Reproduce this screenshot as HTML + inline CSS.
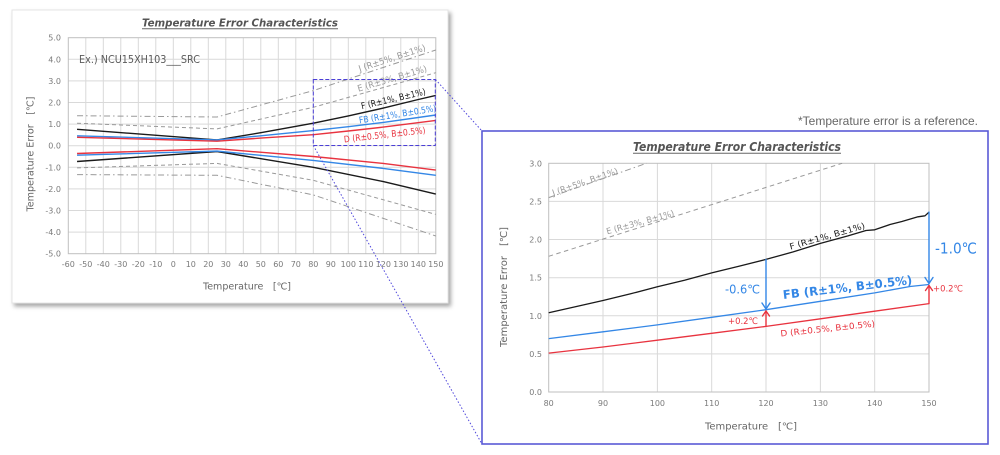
<!DOCTYPE html>
<html>
<head>
<meta charset="utf-8">
<style>
html,body{margin:0;padding:0;background:#fff;}
body{width:1000px;height:455px;overflow:hidden;}
svg{display:block;}
text{font-family:"DejaVu Sans","Noto Sans CJK JP",sans-serif;}
.tk{font-size:8px;fill:#7a7a7a;}
</style>
</head>
<body>
<svg width="1000" height="455" viewBox="0 0 1000 455" xmlns="http://www.w3.org/2000/svg">
<defs>
<filter id="sh" x="-5%" y="-5%" width="115%" height="115%">
<feDropShadow dx="2.5" dy="3" stdDeviation="2" flood-color="#000" flood-opacity="0.35"/>
</filter>
</defs>

<!-- left card -->
<rect x="12" y="10" width="436" height="293" fill="#fff" stroke="#e4e4e4" stroke-width="1" filter="url(#sh)"/>

<!-- left title -->
<text x="142" y="26.5" font-size="11" font-weight="bold" font-style="italic" fill="#555" textLength="196" lengthAdjust="spacingAndGlyphs">Temperature Error Characteristics</text>
<line x1="142" y1="28.8" x2="338" y2="28.8" stroke="#666" stroke-width="1"/>

<!-- left grid -->
<g stroke="#d9d9d9" stroke-width="1">
<line x1="85.8" y1="37.7" x2="85.8" y2="253.7"/><line x1="103.3" y1="37.7" x2="103.3" y2="253.7"/><line x1="120.8" y1="37.7" x2="120.8" y2="253.7"/><line x1="138.3" y1="37.7" x2="138.3" y2="253.7"/><line x1="155.8" y1="37.7" x2="155.8" y2="253.7"/><line x1="173.3" y1="37.7" x2="173.3" y2="253.7"/><line x1="190.8" y1="37.7" x2="190.8" y2="253.7"/><line x1="208.3" y1="37.7" x2="208.3" y2="253.7"/><line x1="225.8" y1="37.7" x2="225.8" y2="253.7"/><line x1="243.3" y1="37.7" x2="243.3" y2="253.7"/><line x1="260.8" y1="37.7" x2="260.8" y2="253.7"/><line x1="278.3" y1="37.7" x2="278.3" y2="253.7"/><line x1="295.8" y1="37.7" x2="295.8" y2="253.7"/><line x1="313.3" y1="37.7" x2="313.3" y2="253.7"/><line x1="330.8" y1="37.7" x2="330.8" y2="253.7"/><line x1="348.3" y1="37.7" x2="348.3" y2="253.7"/><line x1="365.8" y1="37.7" x2="365.8" y2="253.7"/><line x1="383.3" y1="37.7" x2="383.3" y2="253.7"/><line x1="400.8" y1="37.7" x2="400.8" y2="253.7"/><line x1="418.3" y1="37.7" x2="418.3" y2="253.7"/>
<line x1="68.3" y1="59.3" x2="435.8" y2="59.3"/><line x1="68.3" y1="80.9" x2="435.8" y2="80.9"/><line x1="68.3" y1="102.5" x2="435.8" y2="102.5"/><line x1="68.3" y1="124.1" x2="435.8" y2="124.1"/><line x1="68.3" y1="145.7" x2="435.8" y2="145.7"/><line x1="68.3" y1="167.3" x2="435.8" y2="167.3"/><line x1="68.3" y1="188.9" x2="435.8" y2="188.9"/><line x1="68.3" y1="210.5" x2="435.8" y2="210.5"/><line x1="68.3" y1="232.1" x2="435.8" y2="232.1"/>
</g>
<rect x="68.3" y="37.7" width="367.5" height="216" fill="none" stroke="#bfbfbf" stroke-width="1"/>

<!-- left y ticks -->
<g class="tk" text-anchor="end">
<text x="61" y="40.7">5.0</text><text x="61" y="62.3">4.0</text><text x="61" y="83.9">3.0</text><text x="61" y="105.5">2.0</text><text x="61" y="127.1">1.0</text><text x="61" y="148.7">0.0</text><text x="61" y="170.3">-1.0</text><text x="61" y="191.9">-2.0</text><text x="61" y="213.5">-3.0</text><text x="61" y="235.1">-4.0</text><text x="61" y="256.7">-5.0</text>
</g>
<!-- left x ticks -->
<g class="tk" text-anchor="middle">
<text x="68.3" y="267">-60</text><text x="85.8" y="267">-50</text><text x="103.3" y="267">-40</text><text x="120.8" y="267">-30</text><text x="138.3" y="267">-20</text><text x="155.8" y="267">-10</text><text x="173.3" y="267">0</text><text x="190.8" y="267">10</text><text x="208.3" y="267">20</text><text x="225.8" y="267">30</text><text x="243.3" y="267">40</text><text x="260.8" y="267">50</text><text x="278.3" y="267">60</text><text x="295.8" y="267">70</text><text x="313.3" y="267">80</text><text x="330.8" y="267">90</text><text x="348.3" y="267">100</text><text x="365.8" y="267">110</text><text x="383.3" y="267">120</text><text x="400.8" y="267">130</text><text x="418.3" y="267">140</text><text x="435.8" y="267">150</text>
</g>

<!-- left axis titles -->
<text x="203" y="289.5" font-size="9.5" fill="#666" textLength="88" lengthAdjust="spacingAndGlyphs">Temperature　[℃]</text>
<text transform="translate(33.5,154) rotate(-90)" x="0" y="0" text-anchor="middle" font-size="9.5" fill="#666" textLength="115" lengthAdjust="spacingAndGlyphs">Temperature Error　[℃]</text>

<text x="79" y="63" font-size="10.5" fill="#5a5a5a" textLength="121" lengthAdjust="spacingAndGlyphs">Ex.) NCU15XH103___SRC</text>

<!-- left series -->
<g fill="none" stroke-linejoin="round">
<path d="M77.05,115.7 L217.05,117.0 L313.3,90.6 L435.8,50.0" stroke="#999" stroke-width="1" stroke-dasharray="6,3,1.5,3"/>
<path d="M77.05,174.6 L217.05,175.3 L313.3,194.9 L435.8,236.0" stroke="#999" stroke-width="1" stroke-dasharray="6,3,1.5,3"/>
<path d="M77.05,123.2 L217.05,128.9 L313.3,107.3 L435.8,72.7" stroke="#999" stroke-width="1" stroke-dasharray="4,3"/>
<path d="M77.05,167.9 L217.05,163.4 L313.3,180.3 L435.8,214.4" stroke="#999" stroke-width="1" stroke-dasharray="4,3"/>
<path d="M77.05,129.3 L217.05,139.9 L260.8,132.7 L313.3,123.2 L348.3,115.9 L383.3,108.1 L418.3,99.5 L435.8,95.4" stroke="#1a1a1a" stroke-width="1.4"/>
<path d="M77.05,161.5 L217.05,151.5 L313.3,167.3 L383.3,181.6 L435.8,194.1" stroke="#1a1a1a" stroke-width="1.4"/>
<path d="M77.05,135.8 L217.05,139.9 L260.8,135.8 L313.3,130.6 L348.3,126.7 L383.3,122.4 L435.8,115.0" stroke="#3487e6" stroke-width="1.4"/>
<path d="M77.05,155.2 L217.05,151.1 L313.3,160.4 L383.3,168.4 L435.8,175.3" stroke="#3487e6" stroke-width="1.4"/>
<path d="M77.05,137.3 L217.05,141.2 L260.8,138.1 L313.3,134.7 L348.3,131.0 L383.3,127.1 L435.8,120.4" stroke="#e8333f" stroke-width="1.4"/>
<path d="M77.05,153.5 L217.05,148.7 L313.3,156.5 L383.3,163.4 L435.8,170.1" stroke="#e8333f" stroke-width="1.4"/>
</g>

<!-- left labels -->
<text transform="translate(393,61) rotate(-18)" text-anchor="middle" font-size="9" fill="#999" textLength="70" lengthAdjust="spacingAndGlyphs">J (R±5%, B±1%)</text>
<text transform="translate(393,81.5) rotate(-16.5)" text-anchor="middle" font-size="9" fill="#999" textLength="72" lengthAdjust="spacingAndGlyphs">E (R±3%, B±1%)</text>
<text transform="translate(394,101.8) rotate(-13)" text-anchor="middle" font-size="9" fill="#1a1a1a" textLength="66" lengthAdjust="spacingAndGlyphs">F (R±1%, B±1%)</text>
<text transform="translate(398,117.3) rotate(-9)" text-anchor="middle" font-size="9" fill="#3487e6" textLength="78" lengthAdjust="spacingAndGlyphs">FB (R±1%, B±0.5%)</text>
<text transform="translate(385,137.8) rotate(-6.5)" text-anchor="middle" font-size="9" fill="#e8333f" textLength="82" lengthAdjust="spacingAndGlyphs">D (R±0.5%, B±0.5%)</text>

<!-- zoom rect -->
<rect x="313.3" y="79.5" width="122" height="66" fill="none" stroke="#4b3fd6" stroke-width="1" stroke-dasharray="4,2"/>

<!-- connecting lines -->
<line x1="435.5" y1="79.5" x2="482" y2="131" stroke="#5048dc" stroke-width="1" stroke-dasharray="1.5,2"/>
<line x1="313.3" y1="145.5" x2="482" y2="444" stroke="#5048dc" stroke-width="1" stroke-dasharray="1.5,2"/>

<!-- note -->
<text x="798" y="125" style="font-family:'Liberation Sans',sans-serif" font-size="12" fill="#666" textLength="180" lengthAdjust="spacingAndGlyphs">*Temperature error is a reference.</text>

<!-- right box -->
<rect x="482" y="131" width="506" height="313" fill="#fff" stroke="#5a5ad6" stroke-width="1.6"/>

<!-- right title -->
<text x="633" y="151" font-size="12" font-weight="bold" font-style="italic" fill="#555" textLength="208" lengthAdjust="spacingAndGlyphs">Temperature Error Characteristics</text>
<line x1="633" y1="153.2" x2="841" y2="153.2" stroke="#666" stroke-width="1"/>

<!-- right grid -->
<g stroke="#d9d9d9" stroke-width="1">
<line x1="603.0" y1="163.3" x2="603.0" y2="392"/><line x1="657.4" y1="163.3" x2="657.4" y2="392"/><line x1="711.7" y1="163.3" x2="711.7" y2="392"/><line x1="766.0" y1="163.3" x2="766.0" y2="392"/><line x1="820.4" y1="163.3" x2="820.4" y2="392"/><line x1="874.7" y1="163.3" x2="874.7" y2="392"/>
<line x1="548.7" y1="201.4" x2="929" y2="201.4"/><line x1="548.7" y1="239.5" x2="929" y2="239.5"/><line x1="548.7" y1="277.7" x2="929" y2="277.7"/><line x1="548.7" y1="315.8" x2="929" y2="315.8"/><line x1="548.7" y1="353.9" x2="929" y2="353.9"/>
</g>
<rect x="548.7" y="163.3" width="380.3" height="228.7" fill="none" stroke="#bfbfbf" stroke-width="1"/>

<g class="tk" text-anchor="end">
<text x="542" y="166.3">3.0</text><text x="542" y="204.4">2.5</text><text x="542" y="242.5">2.0</text><text x="542" y="280.7">1.5</text><text x="542" y="318.8">1.0</text><text x="542" y="356.9">0.5</text><text x="542" y="395">0.0</text>
</g>
<g class="tk" text-anchor="middle">
<text x="548.7" y="406">80</text><text x="603.0" y="406">90</text><text x="657.4" y="406">100</text><text x="711.7" y="406">110</text><text x="766.0" y="406">120</text><text x="820.4" y="406">130</text><text x="874.7" y="406">140</text><text x="929" y="406">150</text>
</g>

<text x="705" y="429.5" font-size="9.5" fill="#666" textLength="92" lengthAdjust="spacingAndGlyphs">Temperature　[℃]</text>
<text transform="translate(507,287) rotate(-90)" x="0" y="0" text-anchor="middle" font-size="9.5" fill="#666" textLength="120" lengthAdjust="spacingAndGlyphs">Temperature Error　[℃]</text>

<!-- right series -->
<g fill="none" stroke-linejoin="round">
<path d="M548.7,197.6 L646.5,163.3" stroke="#999" stroke-width="1" stroke-dasharray="6,3,1.5,3"/>
<path d="M548.7,256.3 L842.1,163.3" stroke="#999" stroke-width="1" stroke-dasharray="4.5,3.5"/>
<path d="M548.7,312.7 L575.9,306.6 L603.0,300.5 L630.2,293.9 L657.4,286.8 L684.5,280.2 L711.7,272.9 L738.9,266.2 L766.0,259.4 L793.2,251.9 L820.4,243.4 L847.5,236.0 L866,230.5 L874.7,229.8 L890,224.5 L901.9,221.5 L918,216.8 L925,215.8 L929,212.1" stroke="#1a1a1a" stroke-width="1.3"/>
<path d="M548.7,338.6 L603.0,331.8 L657.4,324.9 L711.7,317.3 L766.0,309.7 L820.4,301.3 L874.7,292.9 L910,286.5 L929,284.5" stroke="#3487e6" stroke-width="1.3"/>
<path d="M548.7,353.1 L603.0,347.0 L657.4,340.2 L711.7,333.3 L766.0,326.4 L820.4,318.8 L874.7,311.2 L929,303.6" stroke="#e8333f" stroke-width="1.3"/>
</g>

<!-- arrows -->
<g fill="none" stroke-width="1.4" stroke-linecap="round" stroke-linejoin="round">
<path d="M766,259.4 L766,309" stroke="#3487e6"/>
<path d="M762,303 L766,309 L770,303" stroke="#3487e6"/>
<path d="M766,326.4 L766,311" stroke="#e8333f"/>
<path d="M762.5,316 L766,311 L769.5,316" stroke="#e8333f"/>
<path d="M929,212.1 L929,283.5" stroke="#3487e6"/>
<path d="M925,277.5 L929,283.5 L933,277.5" stroke="#3487e6"/>
<path d="M929,303.6 L929,285.5" stroke="#e8333f"/>
<path d="M925.5,290.5 L929,285.5 L932.5,290.5" stroke="#e8333f"/>
</g>

<!-- right labels -->
<text transform="translate(586,184.5) rotate(-19)" text-anchor="middle" font-size="8.5" fill="#999" textLength="69" lengthAdjust="spacingAndGlyphs">J (R±5%, B±1%)</text>
<text transform="translate(641,225) rotate(-15.5)" text-anchor="middle" font-size="8.5" fill="#999" textLength="70" lengthAdjust="spacingAndGlyphs">E (R±3%, B±1%)</text>
<text transform="translate(828,239) rotate(-16)" text-anchor="middle" font-size="8.5" fill="#1a1a1a" textLength="78" lengthAdjust="spacingAndGlyphs">F (R±1%, B±1%)</text>
<text transform="translate(848,291.5) rotate(-6.6)" text-anchor="middle" font-size="12" font-weight="bold" fill="#3487e6" textLength="130" lengthAdjust="spacingAndGlyphs">FB (R±1%, B±0.5%)</text>
<text transform="translate(828,331.5) rotate(-6)" text-anchor="middle" font-size="8.5" fill="#e8333f" textLength="95" lengthAdjust="spacingAndGlyphs">D (R±0.5%, B±0.5%)</text>

<!-- annotation values -->
<text x="935" y="253.5" font-size="15" fill="#3487e6" textLength="42" lengthAdjust="spacingAndGlyphs">-1.0℃</text>
<text x="725" y="293.5" font-size="12" fill="#3487e6" textLength="35" lengthAdjust="spacingAndGlyphs">-0.6℃</text>
<text x="728" y="324" font-size="9" fill="#e8333f" textLength="30" lengthAdjust="spacingAndGlyphs">+0.2℃</text>
<text x="933" y="291.5" font-size="9" fill="#e8333f" textLength="30" lengthAdjust="spacingAndGlyphs">+0.2℃</text>
</svg>
</body>
</html>
